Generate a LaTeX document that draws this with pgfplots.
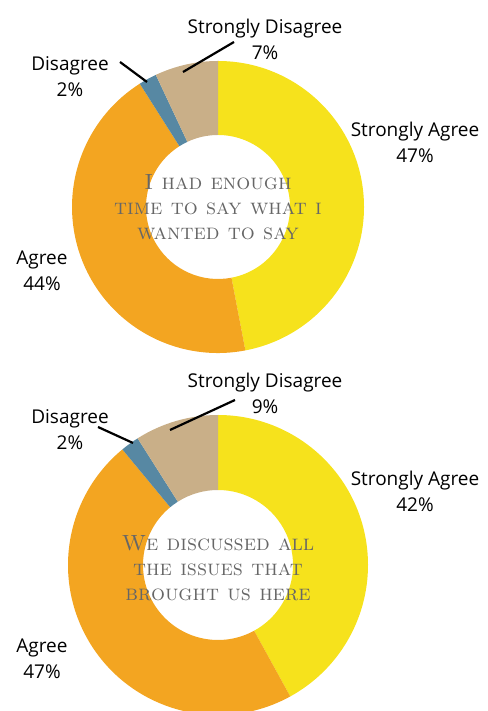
\documentclass[border=0pt]{standalone}
\usepackage{pgfplots}
\pgfplotsset{compat=1.18}
\usepackage{fontspec}
\newfontfamily\labfont{Open Sans}
\definecolor{sa}{HTML}{F6E21C}
\definecolor{ag}{HTML}{F3A521}
\definecolor{di}{HTML}{5788A3}
\definecolor{sd}{HTML}{C9AF88}
\definecolor{ctr}{HTML}{666666}
% value / colour, clockwise from 12 o'clock
\def\dataA{47/sa,44/ag,2/di,7/sd}
\def\dataB{42/sa,47/ag,2/di,9/sd}
\newcommand\donut[5]{%
  \xdef\curang{90}%
  \foreach \v/\c in #5{%
    \pgfmathsetmacro\ea{\curang-3.6*\v}%
    \pgfmathsetmacro\xa{#1+#3*cos(\curang)}%
    \pgfmathsetmacro\ya{#2+#3*sin(\curang)}%
    \pgfmathsetmacro\xb{#1+#4*cos(\ea)}%
    \pgfmathsetmacro\yb{#2+#4*sin(\ea)}%
    \edef\tmp{\noexpand\fill[\c] (axis cs:\xa,\ya) arc[start angle=\curang,end angle=\ea,radius=#3pt] -- (axis cs:\xb,\yb) arc[start angle=\ea,end angle=\curang,radius=#4pt] -- cycle;}%
    \tmp
    \xdef\curang{\ea}%
  }}
\begin{document}
\begin{tikzpicture}
\path[use as bounding box] (0,0) rectangle (487pt,711pt);
\clip (0,0) rectangle (487pt,711pt);
\begin{axis}[at={(0,0)},anchor=south west,scale only axis,width=487pt,height=711pt,
  xmin=0,xmax=487,ymin=0,ymax=711,hide axis,clip=false]
\donut{218}{504}{146}{72}{\dataA}
\donut{218}{146}{150}{75}{\dataB}
\begin{scope}[every node/.style={font=\labfont\fontsize{19}{22}\selectfont,align=center,text=black,inner sep=0pt}]
\node at (axis cs:265,672) {Strongly Disagree\\[4pt]7\%};
\node at (axis cs:70,634) {Disagree\\[4pt]2\%};
\node at (axis cs:415,569) {Strongly Agree\\[4pt]47\%};
\node at (axis cs:42,440) {Agree\\[4pt]44\%};
\node at (axis cs:265,318) {Strongly Disagree\\[4pt]9\%};
\node at (axis cs:70,281) {Disagree\\[4pt]2\%};
\node at (axis cs:415,220) {Strongly Agree\\[4pt]42\%};
\node at (axis cs:42,52) {Agree\\[4pt]47\%};
\end{scope}
\draw[line width=2.2pt] (axis cs:120,649) -- (axis cs:147,629);
\draw[line width=2.2pt] (axis cs:234,669) -- (axis cs:183,639);
\draw[line width=2.2pt] (axis cs:98,284) -- (axis cs:133,268);
\draw[line width=2.2pt] (axis cs:235,311) -- (axis cs:170,281);
\begin{scope}[every node/.style={font=\scshape\fontsize{22}{25}\selectfont,align=center,text=ctr,inner sep=0pt}]
\node at (axis cs:218,504) {I had enough\\time to say what i\\wanted to say};
\node at (axis cs:218,143) {We discussed all\\the issues that\\brought us here};
\end{scope}
\end{axis}
\end{tikzpicture}
\end{document}
